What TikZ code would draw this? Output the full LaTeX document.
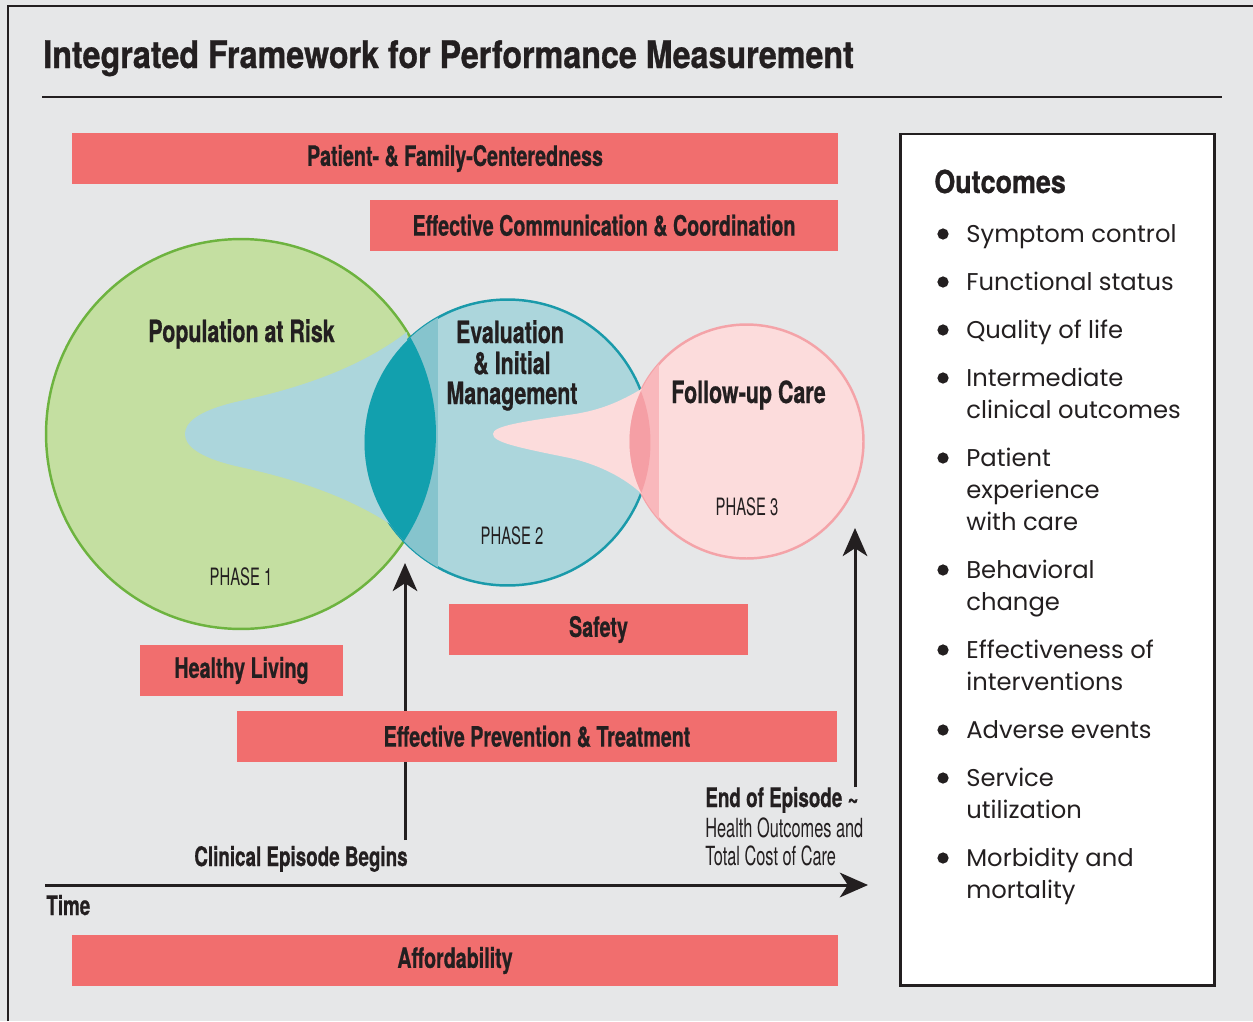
\documentclass[tikz,border=0pt]{standalone}
\usepackage{fontspec}
\usepackage{xcolor}
\usepackage{tikz}
\usetikzlibrary{arrows.meta, positioning, calc}

\newfontfamily\headfont[FakeStretch=0.85, FakeBold=0.8]{TeX Gyre Heros Bold}
\newfontfamily\condbold[FakeStretch=0.7, FakeBold=0.6]{TeX Gyre Heros Bold}
\newfontfamily\condfont[FakeStretch=0.62]{TeX Gyre Heros}
\newfontfamily\listfont{Poppins}

\definecolor{paper}{HTML}{E6E7E8}
\definecolor{ink}{HTML}{231F20}
\definecolor{barred}{HTML}{F16E6E}
\definecolor{riskfill}{HTML}{C4DFA1}
\definecolor{riskline}{HTML}{6DB33F}
\definecolor{evalfill}{HTML}{ACD6DC}
\definecolor{evalline}{HTML}{1A9AAA}
\definecolor{evalstrip}{HTML}{86C4CD}
\definecolor{evallens}{HTML}{12A0AE}
\definecolor{carefill}{HTML}{FCDCDC}
\definecolor{careline}{HTML}{F4A3A8}
\definecolor{carestrip}{HTML}{F9B8BC}
\definecolor{carelens}{HTML}{F59FA5}

\tikzset{
  bar/.style={fill=barred, minimum height=1.02cm, inner sep=0pt, text=ink,
    font=\condbold\fontsize{16}{19}\selectfont},
  circtitle/.style={anchor=base, text=ink, font=\condbold\fontsize{17.4}{20}\selectfont},
  phase/.style={anchor=base, text=ink, font=\condfont\fontsize{13.6}{16}\selectfont},
  boldlabel/.style={text=ink, font=\condbold\fontsize{15.3}{18}\selectfont},
  plainlabel/.style={text=ink, font=\condfont\fontsize{15}{18}\selectfont},
  outtext/.style={anchor=base west, inner sep=0pt, text=ink, font=\listfont\fontsize{13.8}{17}\selectfont},
  timeline/.style={ink, line width=1.7pt, -{Stealth[length=16pt, width=14pt, inset=4.5pt]}}
}

\begin{document}
\begin{tikzpicture}[x=0.02cm, y=-0.02cm]
\useasboundingbox (0,0) rectangle (1253,1021);
\fill[paper] (0,0) rectangle (1253,1021);
\draw[ink, line width=1.7pt] (8,1021) -- (8,6) -- (1253,6);

% Title
\node[anchor=base west, inner sep=0pt, text=ink, font=\headfont\fontsize{21.6}{26}\selectfont] (title) at (43,68) {Integrated Framework for Performance Measurement};
\draw[ink, line width=1.7pt] (42,97) -- (1222,97);

% Top bars
\node[bar, minimum width=15.32cm] (pfc) at (455,158.5) {Patient- \& Family-Centeredness};
\node[bar, minimum width=9.36cm] (comm) at (604,225.5) {Effective Communication \& Coordination};

% Phase circles
\coordinate (cone) at (241,434);
\coordinate (ctwo) at (507.5,442.5);
\coordinate (cthree) at (746.5,441.5);

\fill[riskfill] (cone) circle (3.9cm);
\draw[riskline, line width=1.4pt] (cone) circle (3.9cm);
\fill[evalfill] (ctwo) circle (2.86cm);
\draw[evalline, line width=1.4pt] (ctwo) circle (2.86cm);

% Funnel from phase 1 into phase 2
\fill[evalfill] (407,332) .. controls (360,368) and (300,388) .. (240,401)
  .. controls (195,411) and (185,424) .. (185,434)
  .. controls (185,444) and (195,457) .. (240,467)
  .. controls (300,480) and (360,500) .. (407,536) -- cycle;

\begin{scope}
  \clip (ctwo) circle (2.86cm);
  \fill[evalstrip] (350,250) rectangle (438,650);
  \clip (cone) circle (3.9cm);
  \fill[evallens] (300,250) rectangle (500,650);
\end{scope}

\fill[carefill] (cthree) circle (2.34cm);
\draw[careline, line width=1.4pt] (cthree) circle (2.34cm);

% Funnel from phase 2 into phase 3
\fill[carefill] (643,388) .. controls (620,402) and (600,410) .. (575,414)
  .. controls (520,422) and (493,426) .. (493,434)
  .. controls (493,442) and (515,447) .. (570,458)
  .. controls (600,465) and (625,478) .. (643,495) -- cycle;

\begin{scope}
  \clip (cthree) circle (2.34cm);
  \fill[carestrip] (600,300) rectangle (659,600);
  \clip (ctwo) circle (2.86cm);
  \fill[carelens] (600,300) rectangle (700,600);
\end{scope}

% Circle labels
\node[circtitle] (risk) at (241.5,342) {Population at Risk};
\node[phase] (phone) at (241,585) {PHASE 1};
\node[circtitle] (evalA) at (510,343) {Evaluation};
\node[circtitle] (evalB) at (512,374) {\& Initial};
\node[circtitle] (evalC) at (512,404) {Management};
\node[phase] (phtwo) at (512,544) {PHASE 2};
\node[circtitle] (follow) at (748.5,403) {Follow-up Care};
\node[phase] (phthree) at (747,515) {PHASE 3};

% Episode arrows and time axis
\coordinate (beginfoot) at (405,840);
\coordinate (begintip) at (405,563);
\coordinate (endfoot) at (855,787);
\coordinate (endtip) at (855,528);
\coordinate (tstart) at (45,885);
\coordinate (tend) at (868,885);
\draw[timeline] (beginfoot) -- (begintip);
\draw[timeline] (endfoot) -- (endtip);
\draw[timeline] (tstart) -- (tend);

% Lower bars
\node[bar, minimum width=5.98cm] (safety) at (598.5,629.5) {Safety};
\node[bar, minimum width=4.06cm] (healthy) at (241.5,670.5) {Healthy Living};
\node[bar, minimum width=12cm] (prev) at (537,736.5) {Effective Prevention \& Treatment};
\node[bar, minimum width=15.32cm] (afford) at (455,960.5) {Affordability};

% Axis labels
\node[boldlabel, anchor=base east, inner sep=0pt] (begins) at (408,866) {Clinical Episode Begins};
\node[boldlabel, anchor=base west, inner sep=0pt] (time) at (46,915) {Time};
\node[boldlabel, anchor=base west, inner sep=0pt] (endep) at (705,807) {End of Episode \textasciitilde};
\node[plainlabel, anchor=base west, inner sep=0pt] (costA) at (705,837) {Health Outcomes and};
\node[plainlabel, anchor=base west, inner sep=0pt] (costB) at (705,865) {Total Cost of Care};

% Outcomes panel
\draw[ink, fill=white, line width=1.7pt] (900,134) rectangle (1214,985);
\node[anchor=base west, inner sep=0pt, text=ink, font=\headfont\fontsize{18}{22}\selectfont] (outhead) at (934,193) {Outcomes};
\foreach \y in {242,290,338,386,466,578,658,738,786,866}
  \fill[ink] (943,{\y-8}) circle (3.2pt);
\foreach \y/\txt in {242/Symptom control, 290/Functional status, 338/Quality of life,
    386/Intermediate, 418/clinical outcomes, 466/Patient, 498/experience, 530/with care,
    578/Behavioral, 610/change, 658/Effectiveness of, 690/interventions,
    738/Adverse events, 786/Service, 818/utilization, 866/Morbidity and, 898/mortality}
  \node[outtext] (out-\y) at (966,\y) {\txt};
\end{tikzpicture}
\end{document}
